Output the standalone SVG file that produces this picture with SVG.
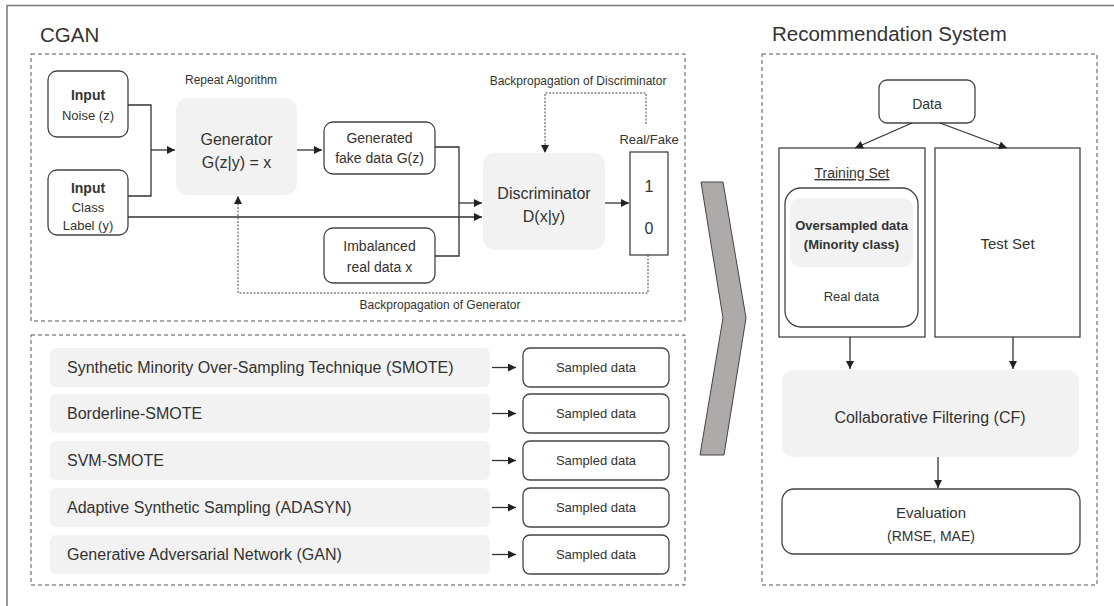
<svg xmlns="http://www.w3.org/2000/svg" width="1114" height="606" viewBox="0 0 1114 606">
  <defs>
    <marker id="arr" viewBox="0 0 10 10" refX="10" refY="5" markerWidth="9" markerHeight="8" markerUnits="userSpaceOnUse" orient="auto">
      <path d="M0,0 L10,5 L0,10 z" fill="#222"/>
    </marker>
    <style>
      text { font-family: "Liberation Sans", Arial, sans-serif; fill: #333; }
      .title { font-size: 20.5px; }
      .mid { text-anchor: middle; }
      .bold { font-weight: bold; }
      .box { fill: #fff; stroke: #444; stroke-width: 1.3; }
      .gray { fill: #f2f2f2; stroke: none; }
      .dash { fill: none; stroke: #555; stroke-width: 1; stroke-dasharray: 4 3; }
      .line { fill: none; stroke: #333; stroke-width: 1.3; }
      .dot { fill: none; stroke: #444; stroke-width: 1; stroke-dasharray: 2 1.5; }
    </style>
  </defs>

  <rect width="1114" height="606" fill="#fff"/>
  <!-- outer frame -->
  <path d="M7,606 V5.5 H1114" fill="none" stroke="#777" stroke-width="1.5"/>

  <!-- section titles and frames -->
  <text class="title" x="40" y="42">CGAN</text>
  <text class="title" x="772" y="41">Recommendation System</text>
  <rect class="dash" x="31" y="54" width="654" height="267"/>
  <rect class="dash" x="31" y="335" width="654" height="250"/>
  <rect class="dash" x="762" y="54" width="335" height="531"/>

  <!-- CGAN nodes -->
  <g id="input-noise">
    <rect class="box" x="48" y="71" width="80" height="66" rx="9"/>
    <text class="mid bold" x="88" y="100" font-size="14">Input</text>
    <text class="mid" x="88" y="120" font-size="13">Noise (z)</text>
  </g>
  <g id="input-class">
    <rect class="box" x="48" y="170" width="80" height="65" rx="9"/>
    <text class="mid bold" x="88" y="193" font-size="14">Input</text>
    <text class="mid" x="88" y="212" font-size="13">Class</text>
    <text class="mid" x="88" y="230" font-size="13">Label (y)</text>
  </g>
  <text x="185" y="84" font-size="12">Repeat Algorithm</text>
  <g id="generator">
    <rect class="gray" x="176" y="98" width="121" height="97" rx="12"/>
    <text class="mid" x="236.5" y="145" font-size="16">Generator</text>
    <text class="mid" x="236.5" y="168" font-size="16">G(z|y) = x</text>
  </g>
  <g id="generated">
    <rect class="box" x="324" y="122" width="111" height="52" rx="9"/>
    <text class="mid" x="379.5" y="143" font-size="14">Generated</text>
    <text class="mid" x="379.5" y="163" font-size="14">fake data G(z)</text>
  </g>
  <g id="imbalanced">
    <rect class="box" x="324" y="228" width="111" height="55" rx="9"/>
    <text class="mid" x="379.5" y="251" font-size="14">Imbalanced</text>
    <text class="mid" x="379.5" y="272" font-size="14">real data x</text>
  </g>
  <g id="discriminator">
    <rect class="gray" x="483" y="153" width="122" height="97" rx="12"/>
    <text class="mid" x="544" y="199" font-size="16">Discriminator</text>
    <text class="mid" x="544" y="222" font-size="16">D(x|y)</text>
  </g>
  <g id="real-fake">
    <text class="mid" x="649" y="144" font-size="13">Real/Fake</text>
    <rect class="box" x="630" y="152" width="38" height="103"/>
    <text class="mid" x="649" y="192" font-size="16">1</text>
    <text class="mid" x="649" y="234" font-size="16">0</text>
  </g>
  <text class="mid" x="578" y="85" font-size="12">Backpropagation of Discriminator</text>
  <text class="mid" x="440" y="309" font-size="12">Backpropagation of Generator</text>

  <!-- oversampling methods -->
  <g id="smote">
    <rect class="gray" x="50" y="348" width="440" height="39" rx="6"/>
    <text x="67" y="373" font-size="16">Synthetic Minority Over-Sampling Technique (SMOTE)</text>
    <rect class="box" x="523" y="348" width="146" height="39" rx="7"/>
    <text class="mid" x="596" y="372" font-size="13">Sampled data</text>
  </g>
  <g id="borderline-smote">
    <rect class="gray" x="50" y="394" width="440" height="39" rx="6"/>
    <text x="67" y="419" font-size="16">Borderline-SMOTE</text>
    <rect class="box" x="523" y="394" width="146" height="39" rx="7"/>
    <text class="mid" x="596" y="418" font-size="13">Sampled data</text>
  </g>
  <g id="svm-smote">
    <rect class="gray" x="50" y="441" width="440" height="39" rx="6"/>
    <text x="67" y="466" font-size="16">SVM-SMOTE</text>
    <rect class="box" x="523" y="441" width="146" height="39" rx="7"/>
    <text class="mid" x="596" y="465" font-size="13">Sampled data</text>
  </g>
  <g id="adasyn">
    <rect class="gray" x="50" y="488" width="440" height="39" rx="6"/>
    <text x="67" y="513" font-size="16">Adaptive Synthetic Sampling (ADASYN)</text>
    <rect class="box" x="523" y="488" width="146" height="39" rx="7"/>
    <text class="mid" x="596" y="512" font-size="13">Sampled data</text>
  </g>
  <g id="gan">
    <rect class="gray" x="50" y="535" width="440" height="39" rx="6"/>
    <text x="67" y="560" font-size="16">Generative Adversarial Network (GAN)</text>
    <rect class="box" x="523" y="535" width="146" height="39" rx="7"/>
    <text class="mid" x="596" y="559" font-size="13">Sampled data</text>
  </g>

  <!-- transition chevron -->
  <polygon points="701,182 723,182 746,318 724,455 700,455 723,318" fill="#aeaaaa" stroke="#444" stroke-width="1"/>

  <!-- recommendation system nodes -->
  <g id="data">
    <rect class="box" x="879" y="80" width="96" height="43" rx="8"/>
    <text class="mid" x="927" y="109" font-size="14">Data</text>
  </g>
  <g id="training-set">
    <rect class="box" x="779" y="148" width="146" height="189"/>
    <text class="mid" x="852" y="178" font-size="14" text-decoration="underline">Training Set</text>
    <rect class="box" x="785" y="188" width="133" height="139" rx="16"/>
    <rect class="gray" x="790" y="198" width="123" height="69" rx="10"/>
    <text class="mid bold" x="851.5" y="230" font-size="13">Oversampled data</text>
    <text class="mid bold" x="851.5" y="249" font-size="13">(Minority class)</text>
    <text class="mid" x="851.5" y="301" font-size="13">Real data</text>
  </g>
  <g id="test-set">
    <rect class="box" x="935" y="148" width="145" height="189"/>
    <text class="mid" x="1007.5" y="249" font-size="15">Test Set</text>
  </g>
  <g id="cf">
    <rect class="gray" x="782" y="370" width="297" height="87" rx="12"/>
    <text class="mid" x="930" y="423" font-size="16">Collaborative Filtering (CF)</text>
  </g>
  <g id="evaluation">
    <rect class="box" x="782" y="489" width="298" height="65" rx="12"/>
    <text class="mid" x="931" y="518" font-size="15">Evaluation</text>
    <text class="mid" x="931" y="541" font-size="14">(RMSE, MAE)</text>
  </g>

  <!-- connectors -->
  <g id="connectors">
    <path class="line" d="M128,105 H151 V196 H128"/>
    <path class="line" d="M151,150 H175" marker-end="url(#arr)"/>
    <path class="line" d="M297,150 H322" marker-end="url(#arr)"/>
    <path class="line" d="M128,217 H482" marker-end="url(#arr)"/>
    <path class="line" d="M435,147 H459 V256 H435"/>
    <path class="line" d="M459,203 H482" marker-end="url(#arr)"/>
    <path class="line" d="M605,203 H629" marker-end="url(#arr)"/>
    <path class="dot" d="M646,124 V93 H545 V153" marker-end="url(#arr)"/>
    <path class="dot" d="M648,255 V293 H238 V196" marker-end="url(#arr)"/>
    <path class="line" d="M492,367.5 H516" marker-end="url(#arr)"/>
    <path class="line" d="M492,413.5 H516" marker-end="url(#arr)"/>
    <path class="line" d="M492,460.5 H516" marker-end="url(#arr)"/>
    <path class="line" d="M492,507.5 H516" marker-end="url(#arr)"/>
    <path class="line" d="M492,554.5 H516" marker-end="url(#arr)"/>
    <path class="line" d="M912,123 L855,148" marker-end="url(#arr)"/>
    <path class="line" d="M940,123 L1007,148" marker-end="url(#arr)"/>
    <path class="line" d="M850,337 V369" marker-end="url(#arr)"/>
    <path class="line" d="M1013,337 V369" marker-end="url(#arr)"/>
    <path class="line" d="M938,457 V488" marker-end="url(#arr)"/>
  </g>
</svg>
